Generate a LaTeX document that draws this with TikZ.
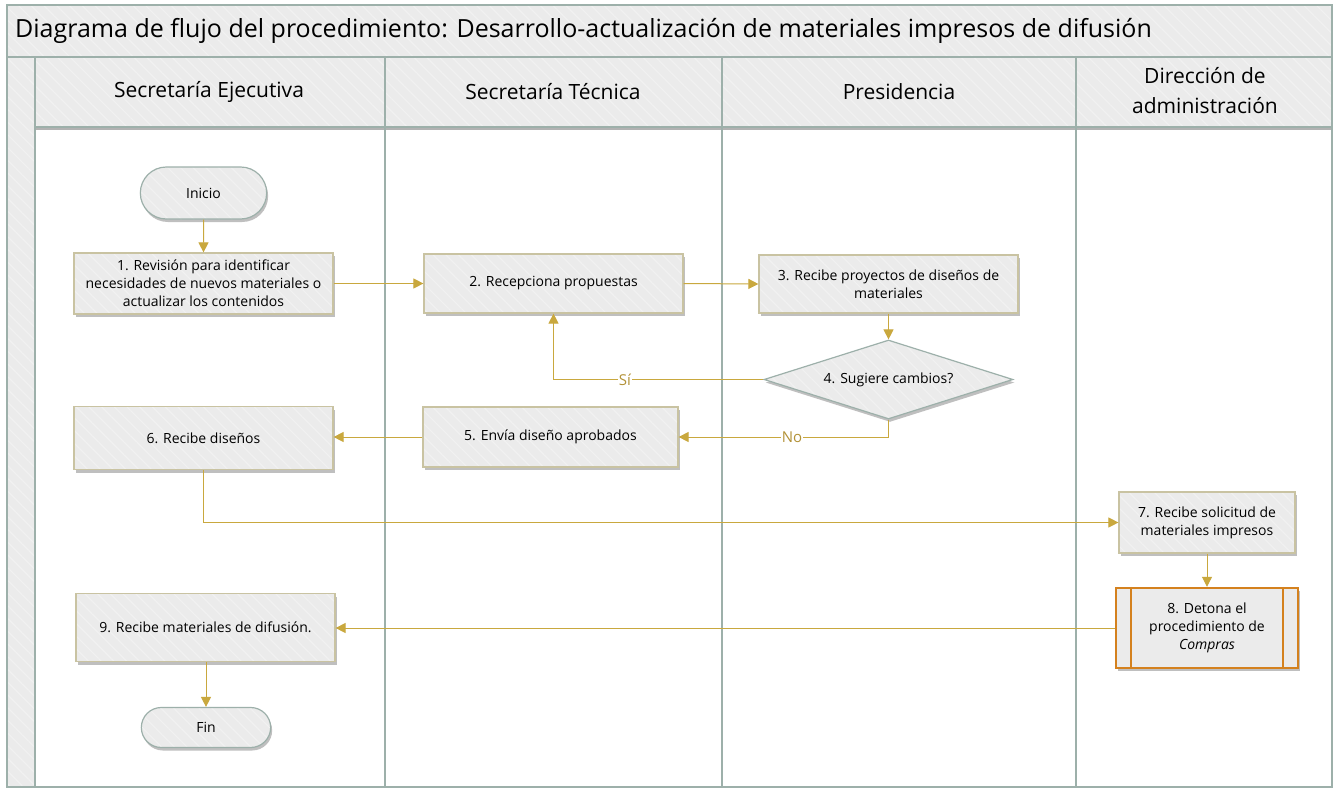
\documentclass[tikz,border=0pt]{standalone}
\usepackage{fontspec}
\setmainfont{Open Sans}
\usetikzlibrary{shapes.geometric,shapes.misc,shadows,patterns.meta,arrows.meta}
\definecolor{lane}{HTML}{9DB0AA}
\definecolor{boxfill}{HTML}{EBEBEB}
\definecolor{hatchc}{HTML}{F1F1F1}
\definecolor{boxline}{HTML}{C9C3A2}
\definecolor{arrowc}{HTML}{C9A83E}
\definecolor{lblc}{HTML}{B39238}
\definecolor{orangec}{HTML}{D4811E}
\tikzset{
  hatch/.style={preaction={fill=boxfill}, pattern={Lines[angle=-45,distance=9pt,line width=1.2pt]}, pattern color=hatchc},
  shad/.style={drop shadow={shadow xshift=1.5pt, shadow yshift=-3pt, fill=black!55, opacity=.45}},
  boxtext/.style={font=\fontsize{14}{18}\selectfont, align=center},
  proc/.style={rectangle, shad, hatch, draw=boxline, line width=1.2pt, boxtext, inner sep=2pt},
  term/.style={rounded rectangle, shad, hatch, draw=lane, line width=1.2pt, boxtext},
  decis/.style={diamond, shape aspect=3.15, shad, hatch, draw=lane, line width=1.2pt, boxtext, inner sep=0pt},
  predef/.style={rectangle, shad, fill=boxfill, draw=orangec, line width=2.4pt, boxtext},
  arr/.style={draw=arrowc, line width=1pt, -{Triangle[width=10pt,length=10pt]}},
  lbl/.style={fill=white, text=lblc, inner sep=1pt, font=\fontsize{15}{17}\selectfont},
  lanetext/.style={font=\fontsize{21}{30}\selectfont, align=center},
  laneline/.style={draw=lane, line width=1.8pt}
}
\begin{document}
\begin{tikzpicture}[x=1pt,y=-1pt]
\useasboundingbox (0,0) rectangle (1335,789);
% frame
\fill[white] (7,5) rectangle (1332,787);
\path[drop shadow={shadow xshift=0pt, shadow yshift=-3.5pt, fill=black!60, opacity=.5}, hatch] (35,57) rectangle (1332,127);
\path[hatch] (7,5) rectangle (1332,57);
\path[hatch] (7,57) rectangle (35,787);
\draw[laneline] (7,57) -- (1332,57);
\draw[laneline] (35,127) -- (1332,127);
\draw[laneline] (35,57) -- (35,787);
\draw[laneline] (385,57) -- (385,787);
\draw[laneline] (722,57) -- (722,787);
\draw[laneline] (1076,57) -- (1076,787);
\draw[laneline] (7,5) rectangle (1332,787);
% title and lane headers
\node[anchor=west, inner sep=0pt, font=\fontsize{25}{28}\selectfont] (title) at (15,31) {Diagrama de flujo del procedimiento: Desarrollo-actualización de materiales impresos de difusión};
\node[lanetext] (h1) at (209,92) {Secretaría Ejecutiva};
\node[lanetext] (h2) at (553,92) {Secretaría Técnica};
\node[lanetext] (h3) at (899,92) {Presidencia};
\node[lanetext] (h4) at (1205,91) {Dirección de\\administración};
% nodes
\node[term, minimum width=133pt, minimum height=52pt] (ini) at (203.5,193) {Inicio};
\node[proc, minimum width=259pt, minimum height=61pt] (b1) at (203.5,283.5) {1. Revisión para identificar\\necesidades de nuevos materiales o\\actualizar los contenidos};
\node[proc, minimum width=259pt, minimum height=59pt] (b2) at (553.5,283.5) {2. Recepciona propuestas};
\node[proc, minimum width=259pt, minimum height=58pt] (b3) at (888.5,284) {3. Recibe proyectos de diseños de\\materiales};
\node[decis, minimum width=249pt, minimum height=79pt] (d4) at (888.5,379.5) {4. Sugiere cambios?};
\node[proc, minimum width=255pt, minimum height=60pt] (b5) at (550.5,437) {5. Envía diseño aprobados};
\node[proc, minimum width=259pt, minimum height=63pt] (b6) at (203.5,438) {6. Recibe diseños};
\node[proc, minimum width=176pt, minimum height=61pt] (b7) at (1207,522.5) {7. Recibe solicitud de\\materiales impresos};
\node[predef, minimum width=182pt, minimum height=80pt] (b8) at (1207,628) {8. Detona el\\procedimiento de\\\textit{Compras}};
\draw[draw=orangec, line width=2.4pt] ([xshift=16pt]b8.north west) -- ([xshift=16pt]b8.south west);
\draw[draw=orangec, line width=2.4pt] ([xshift=-16pt]b8.north east) -- ([xshift=-16pt]b8.south east);
\node[proc, minimum width=259pt, minimum height=68pt] (b9) at (205.5,627.5) {9. Recibe materiales de difusión.};
\node[term, minimum width=136pt, minimum height=40pt] (fin) at (206,727.5) {Fin};
% connectors
\draw[arr] (ini) -- (b1);
\draw[arr] (b1) -- (b2);
\draw[arr] (b2.east) -- (b3.west);
\draw[arr] (b3) -- (d4);
\draw[arr] (d4.west) -- node[lbl, pos=.66] (lsi) {Sí} (d4.west -| b2.south) -- (b2.south);
\draw[arr] (d4.south) -- (d4.south |- b5.east) -- node[lbl, pos=.46] (lno) {No} (b5.east);
\draw[arr] (b5.west) -- (b5.west -| b6.east);
\draw[arr] (b6.south) |- (b7.west);
\draw[arr] (b7) -- (b8);
\draw[arr] (b8.west) -- (b8.west -| b9.east);
\draw[arr] (b9.south -| fin.north) -- (fin.north);
\end{tikzpicture}
\end{document}
